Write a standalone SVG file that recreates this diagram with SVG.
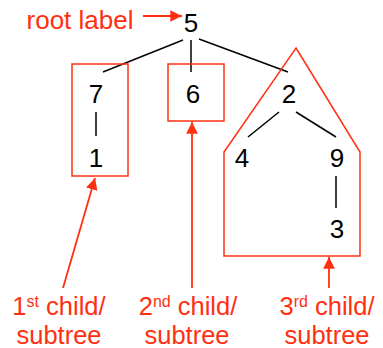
<svg xmlns="http://www.w3.org/2000/svg" width="383" height="348" viewBox="0 0 383 348">
<style>
.n{font-family:"Liberation Sans","DejaVu Sans",sans-serif;font-size:26px;fill:#000;text-anchor:middle}
.l{font-family:"Liberation Sans","DejaVu Sans",sans-serif;font-size:25.5px;fill:#ff3010;text-anchor:middle}
.e{stroke:#000;stroke-width:1.5;fill:none}
.b{stroke:#ff3010;stroke-width:1.5;fill:none}
.a{stroke:#ff3010;stroke-width:1.8;fill:none;marker-end:url(#ah)}
</style>
<defs>
<marker id="ah" viewBox="0 0 10 10" refX="10" refY="5" markerWidth="6.5" markerHeight="6.5" markerUnits="strokeWidth" orient="auto">
<path d="M0,0 L10,5 L0,10 z" fill="#ff3010"/>
</marker>
</defs>
<g id="edges">
<line class="e" x1="183" y1="40" x2="103" y2="72"/>
<line class="e" x1="191" y1="40" x2="191" y2="72"/>
<line class="e" x1="199" y1="39" x2="288" y2="72"/>
<line class="e" x1="96" y1="112" x2="96" y2="136"/>
<line class="e" x1="279" y1="112" x2="248" y2="137"/>
<line class="e" x1="296" y1="112" x2="336" y2="137"/>
<line class="e" x1="336" y1="176" x2="336" y2="208"/>
</g>
<g id="subtrees">
<rect class="b" x="72" y="64" width="56" height="112"/>
<rect class="b" x="168" y="64" width="56" height="57"/>
<path class="b" d="M296,48 L360,152 L360,256 L224,256 L224,152 Z"/>
</g>
<g id="n5"><text class="n" x="191" y="32">5</text></g>
<g id="n7"><text class="n" x="96" y="103">7</text></g>
<g id="n1"><text class="n" x="96" y="167">1</text></g>
<g id="n6"><text class="n" x="193" y="103">6</text></g>
<g id="n2"><text class="n" x="289" y="103">2</text></g>
<g id="n4"><text class="n" x="242" y="167">4</text></g>
<g id="n9"><text class="n" x="337" y="167">9</text></g>
<g id="n3"><text class="n" x="337" y="238">3</text></g>
<g id="annotations">
<line class="a" x1="143" y1="16" x2="182" y2="16"/>
<line class="a" x1="63" y1="288" x2="95" y2="178"/>
<line class="a" x1="192" y1="288" x2="192" y2="122"/>
<line class="a" x1="329" y1="288" x2="329" y2="257"/>
</g>
<g id="labels">
<text class="l" x="80" y="29" textLength="107" lengthAdjust="spacingAndGlyphs">root label</text>
<text class="l" x="59" y="315">1<tspan font-size="16" dy="-8">st</tspan><tspan dy="8"> child/</tspan></text>
<text class="l" x="59" y="344">subtree</text>
<text class="l" x="188" y="315">2<tspan font-size="16" dy="-8">nd</tspan><tspan dy="8"> child/</tspan></text>
<text class="l" x="187" y="344">subtree</text>
<text class="l" x="327" y="315">3<tspan font-size="16" dy="-8">rd</tspan><tspan dy="8"> child/</tspan></text>
<text class="l" x="327" y="344">subtree</text>
</g>
</svg>
